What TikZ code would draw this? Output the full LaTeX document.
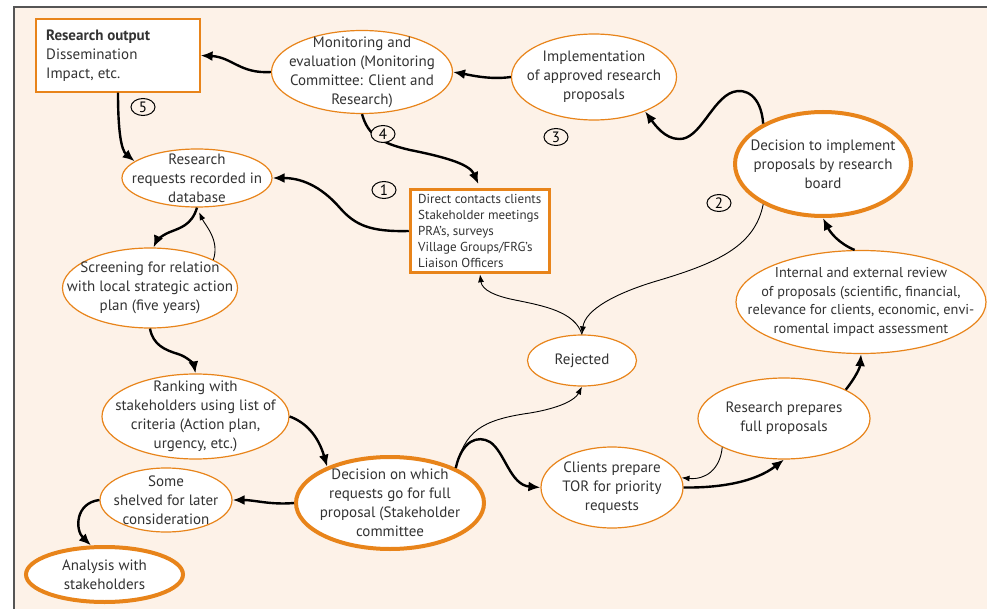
\documentclass[tikz,border=0pt]{standalone}
\usepackage{fontspec}
\setmainfont{PT Sans}
\usetikzlibrary{shapes.geometric,arrows.meta}
\definecolor{bg}{HTML}{FDF2E8}
\definecolor{org}{HTML}{E8841A}
\definecolor{txt}{HTML}{333333}
\definecolor{framec}{HTML}{555555}
\begin{document}
\begin{tikzpicture}[x=1pt,y=-1pt,
  ell/.style={ellipse, draw=org, line width=1.2pt, fill=white, inner sep=0pt},
  ellthick/.style={ellipse, draw=org, line width=4pt, fill=white, inner sep=0pt},
  boxn/.style={rectangle, draw=org, fill=white, inner sep=0pt},
  lbl/.style={align=center, text=txt, font=\fontsize{15}{19}\selectfont, inner sep=0pt},
  thk/.style={line width=2.4pt, -{Latex[length=12pt,width=10pt]}},
  thn/.style={line width=0.9pt, -{Latex[length=8pt,width=6pt]}},
  num/.style={ellipse, draw=black, line width=1pt, fill=bg, minimum width=24pt, minimum height=17pt, inner sep=0pt, text=black, font=\fontsize{15}{15}\selectfont}
]
\useasboundingbox (0,0) rectangle (987,609);
\fill[white] (0,0) rectangle (987,609);
\fill[bg] (14,7) rectangle (987,609);
\draw[framec, line width=1.5pt] (14,609) -- (14,7) -- (987,7);

% nodes
\node[boxn, line width=1.2pt, minimum width=164pt, minimum height=73pt] (out) at (118,55.5) {};
\node[lbl, align=left, anchor=west] (outT) at (46,55.5) {\textbf{Research output}\\Dissemination\\Impact, etc.};

\node[ell, minimum width=181pt, minimum height=83pt] (mon) at (362,72) {};
\node[lbl] (monT) at (mon) {Monitoring and\\evaluation (Monitoring\\Committee: Client and\\Research)};

\node[ell, minimum width=165pt, minimum height=86pt] (imp) at (594,77) {};
\node[lbl] (impT) at (imp) {Implementation\\of approved research\\proposals};

\node[ellthick, minimum width=176pt, minimum height=104pt] (dec2) at (823,164) {};
\node[lbl] (dec2T) at (dec2) {Decision to implement\\proposals by research\\board};

\node[ell, minimum width=150pt, minimum height=58pt] (rr) at (197,178) {};
\node[lbl] (rrT) at (rr) {Research\\requests recorded in\\database};

\node[boxn, line width=3.5pt, minimum width=139pt, minimum height=83pt] (src) at (480,231) {};
\node[lbl, align=left, anchor=west, font=\fontsize{13}{16}\selectfont] (srcT) at (418,231) {Direct contacts clients\\Stakeholder meetings\\PRA's, surveys\\Village Groups/FRG's\\Liaison Officers};

\node[ell, minimum width=175pt, minimum height=80pt] (scr) at (150,288) {};
\node[lbl] (scrT) at (scr) {Screening for relation\\with local strategic action\\plan (five years)};

\node[ell, minimum width=250pt, minimum height=103pt] (rev) at (861,302) {};
\node[lbl, font=\fontsize{14.3}{18.5}\selectfont] (revT) at (rev) {Internal and external review\\of proposals (scientific, financial,\\relevance for clients, economic, envi-\\romental impact assessment};

\node[ell, minimum width=109pt, minimum height=51pt] (rej) at (582,360.5) {};
\node[lbl] (rejT) at (rej) {Rejected};

\node[ell, minimum width=187pt, minimum height=85pt] (rank) at (195.5,416.5) {};
\node[lbl] (rankT) at (rank) {Ranking with\\stakeholders using list of\\criteria (Action plan,\\urgency, etc.)};

\node[ell, minimum width=172pt, minimum height=81pt] (rp) at (784,418.5) {};
\node[lbl] (rpT) at (rp) {Research prepares\\full proposals};

\node[ell, minimum width=142pt, minimum height=81pt] (tor) at (612,487.5) {};
\node[lbl] (torT) at (tor) {Clients prepare\\TOR for priority\\requests};

\node[ellthick, minimum width=188pt, minimum height=92pt] (dec1) at (390,503) {};
\node[lbl] (dec1T) at (dec1) {Decision on which\\requests go for full\\proposal (Stakeholder\\committee};

\node[ell, minimum width=132pt, minimum height=64pt] (shelf) at (166,500) {};
\node[lbl] (shelfT) at (shelf) {Some\\shelved for later\\consideration};

\node[ellthick, minimum width=157pt, minimum height=55pt] (anal) at (104.5,574.5) {};
\node[lbl] (analT) at (anal) {Analysis with\\stakeholders};

% connectors
\draw[thk] (mon.west) .. controls (240,74) and (232,57) .. (out.east);
\draw[thk] (imp.west) .. controls (490,80) and (470,75) .. (mon.east);
\draw[thk] (dec2.146) .. controls (761,95) and (745,88) .. (733,92) .. controls (712,99) and (700,140) .. (679,139) .. controls (665,139) and (655,125) .. (imp.-34);
\draw[thk] (rev.97) .. controls (838,243) and (830,232) .. (dec2.south);
\draw[thk] (rp.25) .. controls (855,378) and (860,368) .. (rev.south);
\draw[thk] (tor.east) .. controls (720,488) and (755,482) .. (rp.south);
\draw[thn] (rp.205) .. controls (720,470) and (705,480) .. (tor.8);
\draw[thk] (dec1.28) .. controls (462,440) and (478,435) .. (490,442) .. controls (505,452) and (510,485) .. (tor.west);
\draw[thn] (dec1.28) .. controls (465,432) and (480,420) .. (530,413) .. controls (560,408) and (575,400) .. (rej.south);
\draw[thn] (dec2.214) .. controls (755,245) and (720,262) .. (660,280) .. controls (615,293) and (585,310) .. (rej.north);
\draw[thn] (rej.north) .. controls (575,312) and (545,306) .. (515,300) .. controls (495,296) and (482,290) .. (src.south);
\draw[thk] (src.west) .. controls (370,232) and (355,225) .. (340,208) .. controls (320,185) and (300,178) .. (rr.east);
\draw[thk, shorten >=4pt] (mon.south) .. controls (368,135) and (380,143) .. (410,150) .. controls (450,158) and (470,165) .. (src.north);
\draw[thk] (out.south) .. controls (118,130) and (121,150) .. (rr.165);
\draw[thk] (rr.south) .. controls (192,225) and (180,228) .. (170,232) .. controls (160,236) and (156,242) .. (scr.85);
\draw[thn, shorten >=5pt] (scr.24) .. controls (220,240) and (205,225) .. (rr.south);
\draw[thk] (scr.south) .. controls (153,345) and (165,350) .. (178,354) .. controls (188,357) and (194,365) .. (rank.north);
\draw[thk] (rank.east) .. controls (305,422) and (318,435) .. (dec1.150);
\draw[thk] (dec1.west) .. controls (270,505) and (255,500) .. (shelf.east);
\draw[thk] (shelf.west) .. controls (75,503) and (75,530) .. (anal.115);

% numbers
\node[num] (n5) at (143,107) {5};
\node[num] (n4) at (383,134) {4};
\node[num] (n1) at (384,190) {1};
\node[num] (n3) at (556,137) {3};
\node[num] (n2) at (719,203) {2};
\end{tikzpicture}
\end{document}
